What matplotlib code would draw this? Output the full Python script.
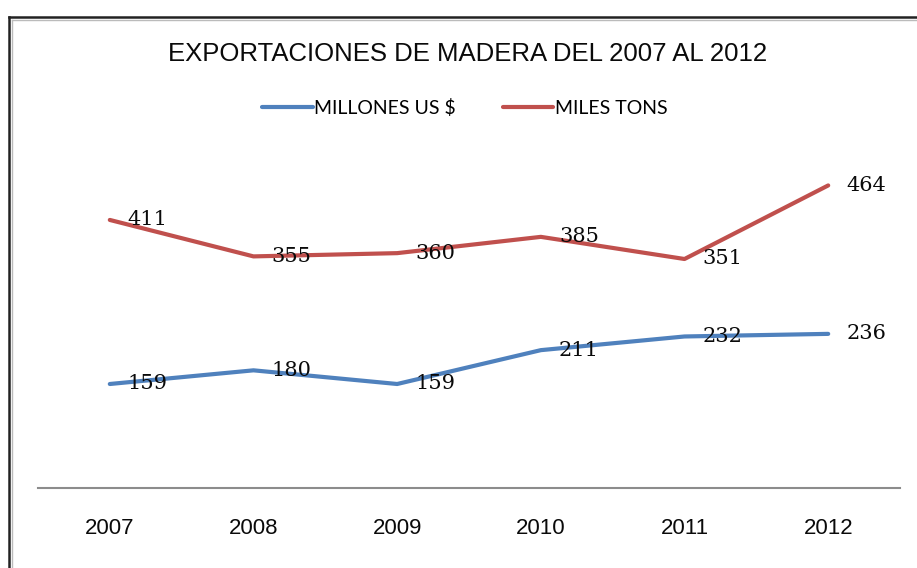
import matplotlib
matplotlib.use("Agg")
import matplotlib.pyplot as plt
from matplotlib.lines import Line2D

years = ["2007", "2008", "2009", "2010", "2011", "2012"]
millones_us = [159, 180, 159, 211, 232, 236]
miles_tons = [411, 355, 360, 385, 351, 464]

blue = "#4F81BD"
red = "#C0504D"

fig = plt.figure(figsize=(9.17, 5.68), dpi=100)
ax = fig.add_axes([0.0414, 0.1417, 0.9401, 0.5731])

x = list(range(len(years)))
ax.plot(x, millones_us, color=blue, lw=3, label="MILLONES US $", solid_capstyle="round")
ax.plot(x, miles_tons, color=red, lw=3, label="MILES TONS", solid_capstyle="round")

# value labels to the right of each point
for serie in (millones_us, miles_tons):
    for i, v in enumerate(serie):
        ax.annotate(str(v), (i, v), xytext=(13, 0), textcoords="offset points",
                    ha="left", va="center", fontsize=15, family="DejaVu Serif",
                    color="#0A0A0A")

ax.set_xlim(-0.5, 5.5)
ax.set_ylim(0, 500)
ax.set_xticks(x)
ax.set_xticklabels(years, family="Liberation Sans", fontsize=16, color="#0A0A0A")
ax.tick_params(axis="x", length=0, pad=22)
ax.set_yticks([])
for s in ("top", "right", "left"):
    ax.spines[s].set_visible(False)
ax.spines["bottom"].set_color("#8C8C8C")
ax.spines["bottom"].set_linewidth(1.5)

fig.text(0.51, 0.905, "EXPORTACIONES DE MADERA DEL 2007 AL 2012", ha="center", va="center",
         fontsize=18.5, family="Liberation Sans", color="#0A0A0A")

fig.legend(loc="center", bbox_to_anchor=(0.507, 0.81), ncol=2, frameon=False,
           prop={"family": "Lato", "size": 14}, handlelength=2.6, handletextpad=0.1,
           columnspacing=2.4)

# outer frame of the chart area
fig.add_artist(Line2D([9 / 917, 1], [1 - 17 / 568] * 2, color="#222222", lw=1.8,
                      transform=fig.transFigure))
fig.add_artist(Line2D([9 / 917] * 2, [0, 1 - 17 / 568], color="#222222", lw=1.8,
                      transform=fig.transFigure))
fig.add_artist(Line2D([12 / 917, 1], [1 - 20 / 568] * 2, color="#BBBBBB", lw=1,
                      transform=fig.transFigure))
fig.add_artist(Line2D([12 / 917] * 2, [0, 1 - 20 / 568], color="#BBBBBB", lw=1,
                      transform=fig.transFigure))

fig.savefig("out.png", dpi=100)
